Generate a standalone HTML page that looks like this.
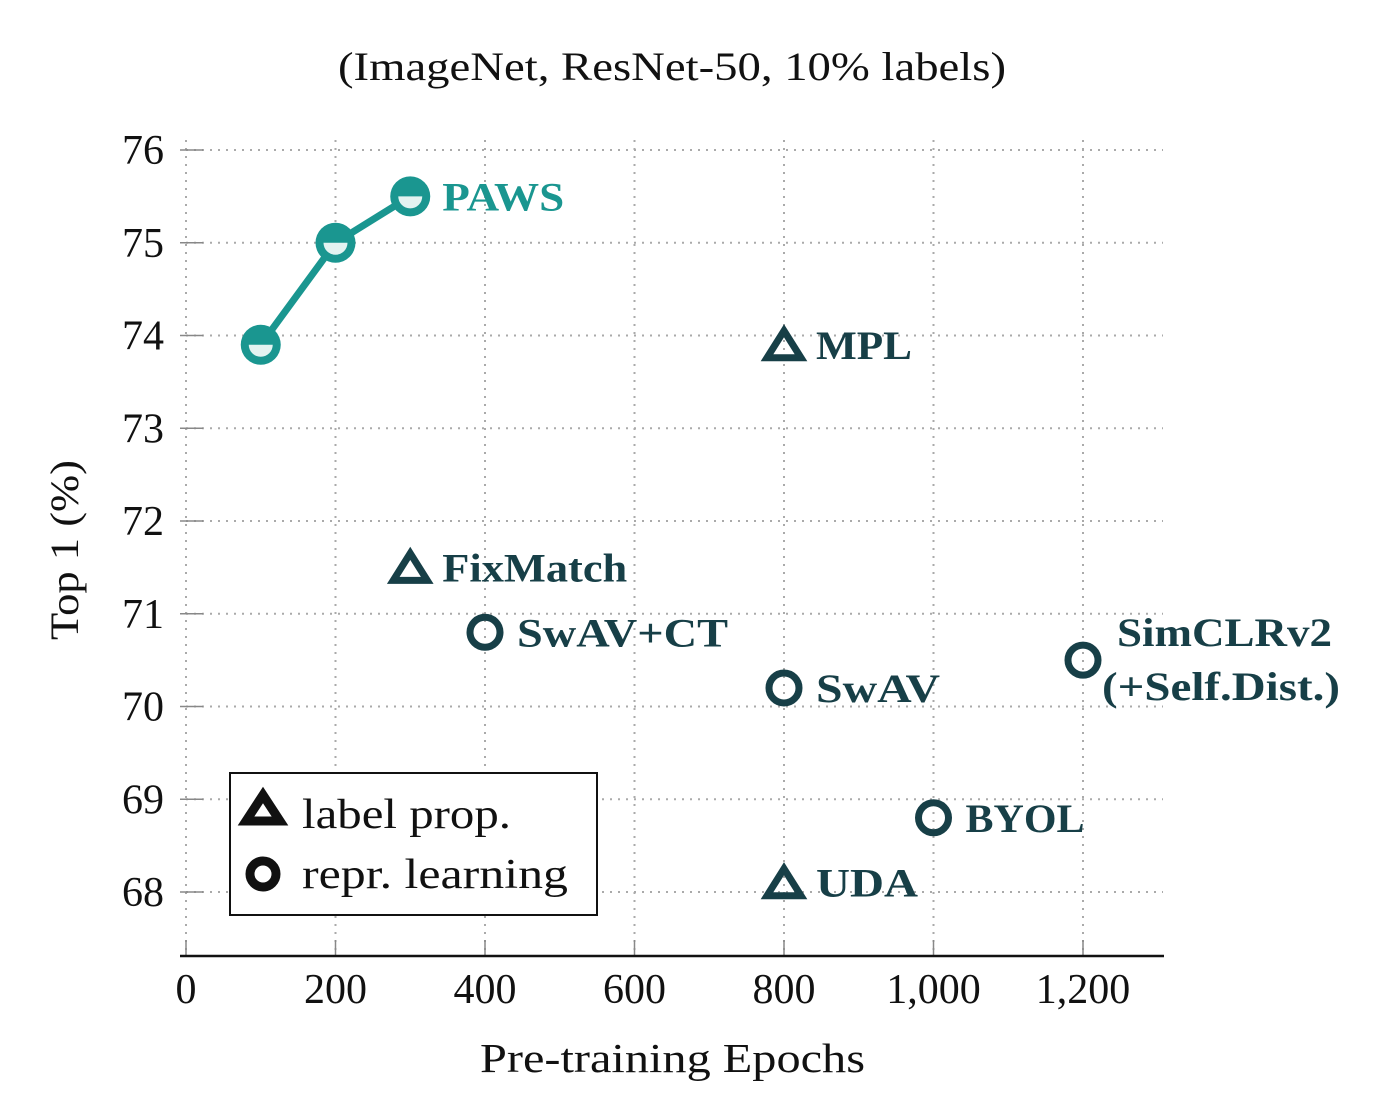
<!DOCTYPE html>
<html><head><meta charset="utf-8"><style>
body{margin:0;background:#fff}
svg{display:block;font-family:"Liberation Serif",serif}
</style></head><body>
<svg id="chart" width="1374" height="1104" viewBox="0 0 1374 1104">
<text x="338" y="80" textLength="668" lengthAdjust="spacingAndGlyphs" font-size="40" fill="#111">(ImageNet, ResNet-50, 10% labels)</text>
<g id="grid"></g><g id="axes"></g><g id="marks"></g>
<text x="480" y="1072" textLength="385" lengthAdjust="spacingAndGlyphs" font-size="41" fill="#111">Pre-training Epochs</text>
<text transform="translate(78,640) rotate(-90)" textLength="180" lengthAdjust="spacingAndGlyphs" font-size="40" fill="#111">Top 1 (%)</text>
<g>
<rect x="230" y="773" width="367" height="142" fill="#fff" stroke="#111" stroke-width="2"/>
<path d="M263,795 L280,821 L246,821 Z" fill="none" stroke="#111" stroke-width="9" stroke-linejoin="miter"/>
<text x="302" y="828" textLength="209" lengthAdjust="spacingAndGlyphs" font-size="42" fill="#111">label prop.</text>
<circle cx="263" cy="874" r="13" fill="none" stroke="#111" stroke-width="9"/>
<text x="302" y="888" textLength="266" lengthAdjust="spacingAndGlyphs" font-size="42" fill="#111">repr. learning</text>
</g>
</svg>
<script>
const xTicks=[0,200,400,600,800,1000,1200];
const xTickLabels=["0","200","400","600","800","1,000","1,200"];
const yTicks=[68,69,70,71,72,73,74,75,76];
const pawsX=[100,200,300];
const pawsY=[73.9,75.0,75.5];
const methodNames=["MPL","FixMatch","UDA","SwAV+CT","SwAV","SimCLRv2","BYOL"];
const methodX=[800,300,800,400,800,1200,1000];
const methodY=[73.9,71.5,68.1,70.8,70.2,70.5,68.8];
const methodType=["tri","tri","tri","circ","circ","circ","circ"];
const labelWidth={"PAWS":122,"MPL":96,"FixMatch":185,"UDA":102,"SwAV+CT":211,"SwAV":124,"SimCLRv2":215,"BYOL":119,"(+Self.Dist.)":238};
const NS="http://www.w3.org/2000/svg";
const xs=v=>186+v*0.7475, ys=v=>892-(v-68)*92.75;
function mk(p,t,a){const e=document.createElementNS(NS,t);for(const k in a)e.setAttribute(k,a[k]);p.appendChild(e);return e;}
const g=document.getElementById('grid'),ax=document.getElementById('axes'),m=document.getElementById('marks');
const TEAL="#1a9690",DARK="#173f47";
xTicks.forEach((v,i)=>{
 const l=mk(g,'line',{x1:xs(v),x2:xs(v),y1:140,y2:956,stroke:"#aaa","stroke-width":2,"stroke-dasharray":"2 6"});
 
 
 const tk=mk(ax,'line',{x1:xs(v),x2:xs(v),y1:940,y2:956,stroke:"#888","stroke-width":1.5});
 
 
 const t=mk(ax,'text',{x:xs(v),y:1003,"text-anchor":"middle","font-size":42,fill:"#111"});
 t.textContent=xTickLabels[i];
 
 
});
yTicks.forEach(v=>{
 const l=mk(g,'line',{x1:186,x2:1163,y1:ys(v),y2:ys(v),stroke:"#aaa","stroke-width":2,"stroke-dasharray":"2 6"});
 
 
 const tk=mk(ax,'line',{x1:180,x2:203,y1:ys(v),y2:ys(v),stroke:"#888","stroke-width":1.5});
 
 
 const t=mk(ax,'text',{x:164,y:ys(v)+14,"text-anchor":"end","font-size":42,fill:"#111"});
 t.textContent=v;
 
 
});
const axl=mk(ax,'line',{x1:180,x2:1164,y1:956,y2:956,stroke:"#111","stroke-width":2.5});


const pl=mk(m,'polyline',{points:pawsX.map((x,i)=>xs(x)+","+ys(pawsY[i])).join(" "),fill:"none",stroke:TEAL,"stroke-width":7});


pawsX.forEach((x,i)=>{
 const cx=xs(x),cy=ys(pawsY[i]);
 const gg=mk(m,'g',{});
 
 
 mk(gg,'circle',{cx:cx,cy:cy,r:20,fill:TEAL});
 mk(gg,'path',{d:`M${cx-12},${cy} A12,12 0 0 0 ${cx+12},${cy} Z`,fill:"#e3f3f1"});
});
const pt=mk(m,'text',{x:xs(300)+32,y:ys(75.5)+14,"font-size":40,"font-weight":"bold",fill:TEAL,textLength:labelWidth["PAWS"],lengthAdjust:"spacingAndGlyphs"});
pt.textContent="PAWS";


methodNames.forEach((n,i)=>{
 const cx=xs(methodX[i]),cy=ys(methodY[i]);
 let e;
 if(methodType[i]=="tri") e=mk(m,'path',{d:`M${cx},${cy-14} L${cx+17},${cy+13} L${cx-17},${cy+13} Z`,fill:"none",stroke:DARK,"stroke-width":7});
 else e=mk(m,'circle',{cx:cx,cy:cy,r:15,fill:"none",stroke:DARK,"stroke-width":7});
 
 
 if(n=="SimCLRv2"){
  const t1=mk(m,'text',{x:cx+34,y:cy-14,"font-size":40,"font-weight":"bold",fill:DARK,textLength:labelWidth["SimCLRv2"],lengthAdjust:"spacingAndGlyphs"});t1.textContent="SimCLRv2";
  
  
  const t2=mk(m,'text',{x:cx+19,y:cy+40,"font-size":40,"font-weight":"bold",fill:DARK,textLength:labelWidth["(+Self.Dist.)"],lengthAdjust:"spacingAndGlyphs"});t2.textContent="(+Self.Dist.)";
  
  
 } else {
  const t=mk(m,'text',{x:cx+32,y:cy+14,"font-size":40,"font-weight":"bold",fill:DARK,textLength:labelWidth[n],lengthAdjust:"spacingAndGlyphs"});t.textContent=n;
  
  
 }
});
</script>
</body></html>
